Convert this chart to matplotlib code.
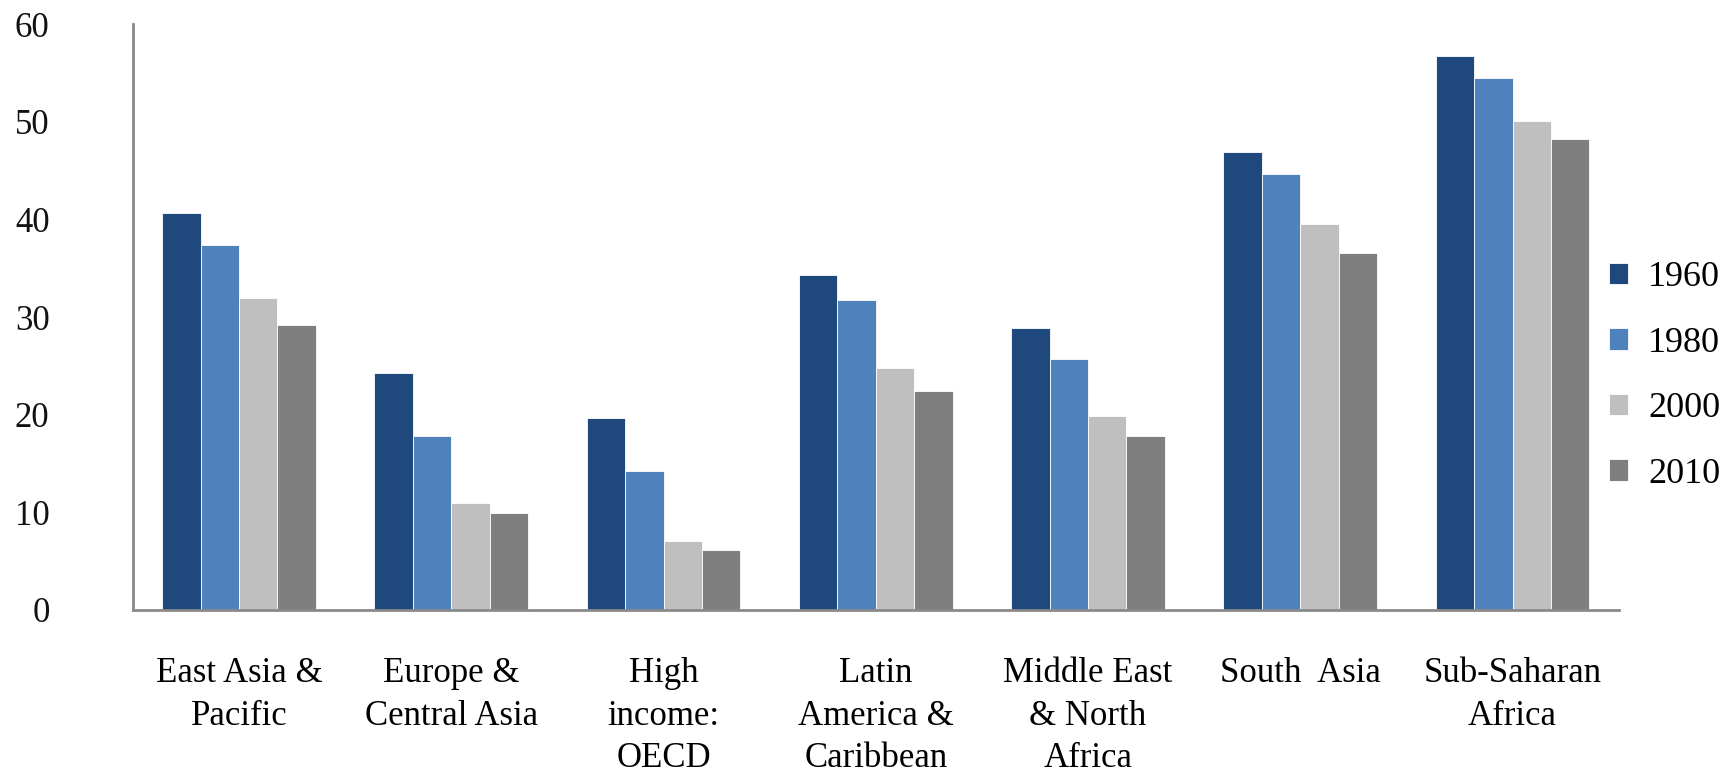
import numpy as np
import matplotlib
matplotlib.use("Agg")
import matplotlib.pyplot as plt

plt.rcParams['font.family'] = ['Liberation Serif', 'DejaVu Serif']

regions = ["East Asia &\nPacific", "Europe &\nCentral Asia", "High\nincome:\nOECD",
           "Latin\nAmerica &\nCaribbean", "Middle East\n& North\nAfrica",
           "South  Asia", "Sub-Saharan\nAfrica"]
years = ["1960", "1980", "2000", "2010"]
v1960 = [40.7, 24.3, 19.7, 34.3, 28.9, 46.9, 56.7]
v1980 = [37.4, 17.8, 14.2, 31.7, 25.7, 44.7, 54.5]
v2000 = [31.9, 11.0, 7.1, 24.8, 19.9, 39.5, 50.1]
v2010 = [29.2, 9.9, 6.1, 22.4, 17.8, 36.6, 48.2]
colors = ["#1F497D", "#4F81BD", "#BFBFBF", "#7F7F7F"]

fs = 25

fig = plt.figure(figsize=(17.33, 7.78), dpi=100)
ax = fig.add_axes([0.0767, 0.216, 0.934 - 0.0767, 0.969 - 0.216])

x = np.arange(len(regions))
w = 0.181
series = [v1960, v1980, v2000, v2010]
for i, vals in enumerate(series):
    ax.bar(x + (i - 1.5) * w, vals, width=w, color=colors[i], label=years[i],
           edgecolor="white", linewidth=0.6)

ax.set_xlim(-0.5, 6.5)
ax.set_ylim(0, 60)
ax.set_yticks(range(0, 61, 10))
ax.set_xticks(x)
ax.set_xticklabels(regions, fontsize=fs, linespacing=1.38)
ax.tick_params(axis='x', length=0, pad=34)
ax.tick_params(axis='y', length=0, pad=60, labelsize=fs)
for t in ax.get_yticklabels():
    t.set_color("#111111")

for s in ["top", "right"]:
    ax.spines[s].set_visible(False)
for s in ["left", "bottom"]:
    ax.spines[s].set_color("#8a8a8a")
    ax.spines[s].set_linewidth(2)

fig.legend(loc="center left", bbox_to_anchor=(1609 / 1733, 1 - 376 / 778),
           frameon=False, fontsize=fs + 1, handlelength=0.53, handleheight=0.53,
           handletextpad=0.55, labelspacing=0.9, borderpad=0, borderaxespad=0)

fig.savefig("out.png", dpi=100)
